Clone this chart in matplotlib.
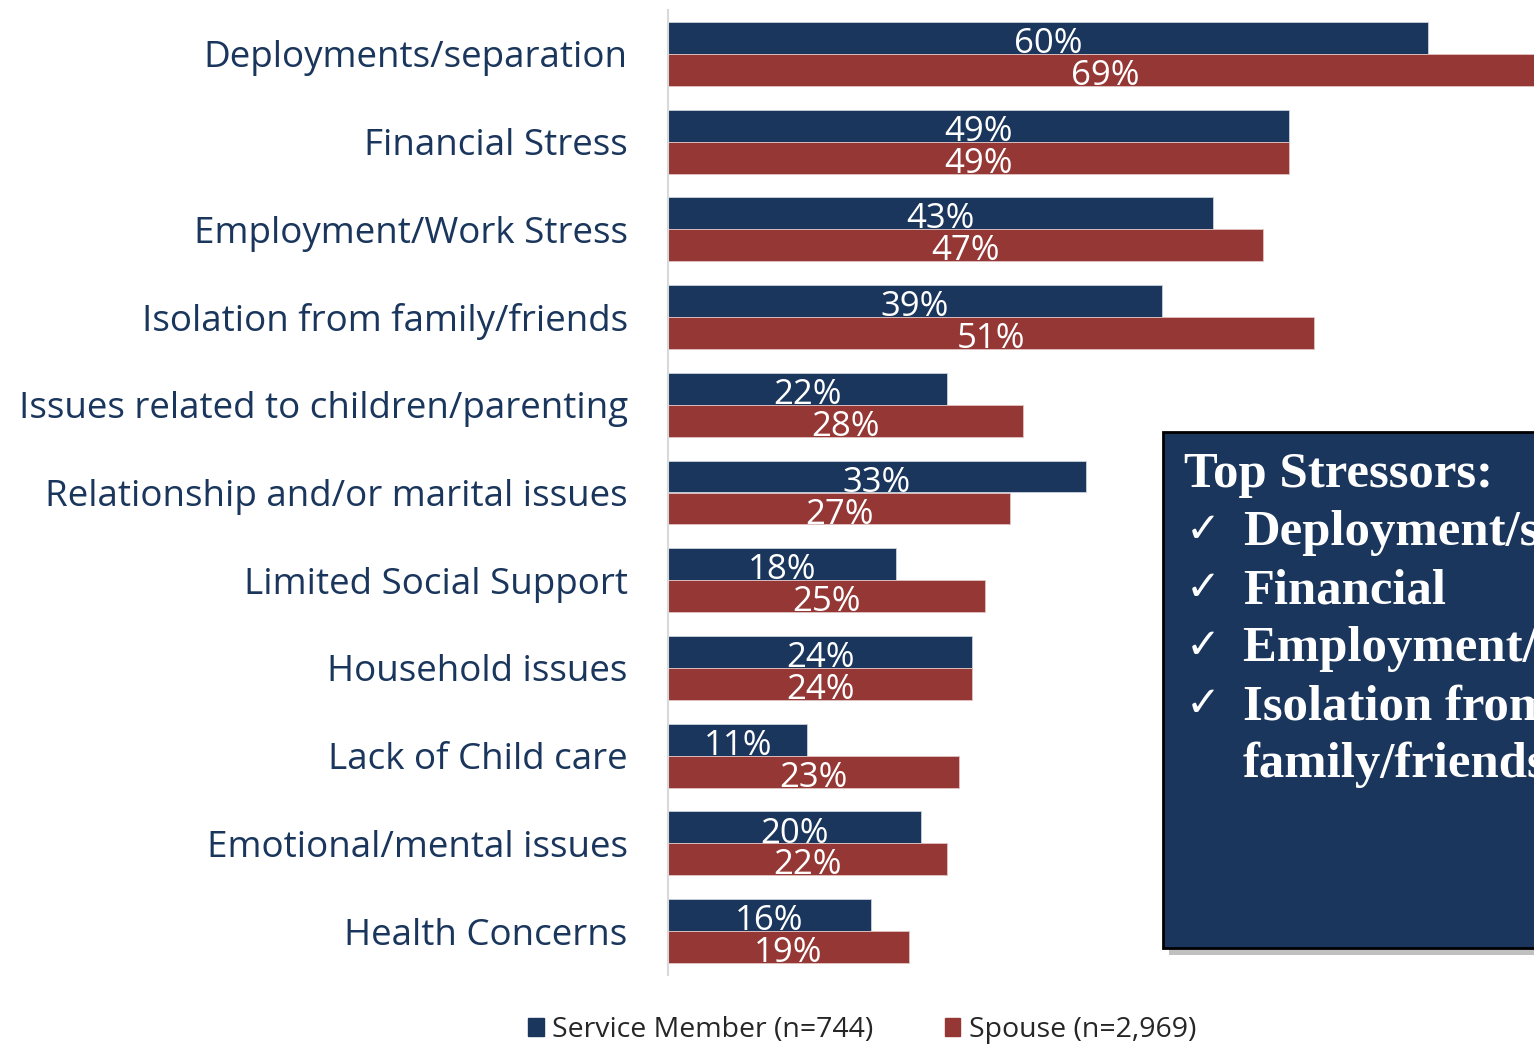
import matplotlib.pyplot as plt
import matplotlib.patches as mpatches
import numpy as np

categories = [
    "Deployments/separation",
    "Financial Stress",
    "Employment/Work Stress",
    "Isolation from family/friends",
    "Issues related to children/parenting",
    "Relationship and/or marital issues",
    "Limited Social Support",
    "Household issues",
    "Lack of Child care",
    "Emotional/mental issues",
    "Health Concerns",
]
service_member = [60, 49, 43, 39, 22, 33, 18, 24, 11, 20, 16]
spouse = [69, 49, 47, 51, 28, 27, 25, 24, 23, 22, 19]
series_labels = ["Service Member (n=744)", "Spouse (n=2,969)"]
box_title = "Top Stressors:"
box_items = ["Deployment/separation", "Financial", "Employment/Work Stress",
             "Isolation from\nfamily/friends"]

NAVY = "#1a365d"
RED = "#953735"
LABEL_FONT = "Open Sans"
BOX_FONT = "Liberation Serif"

fig = plt.figure(figsize=(15.34, 10.45), dpi=100)
ax = fig.add_axes([668 / 1534, 70 / 1045, 866 / 1534, 965 / 1045])

y = np.arange(len(categories))
h = 0.364
ax.barh(y - h / 2, service_member, height=h, color=NAVY, edgecolor="#c9d1dc", linewidth=0.6)
ax.barh(y + h / 2, spouse, height=h, color=RED, edgecolor="#e0c4c4", linewidth=0.6)

# value labels sit on the bottom edge of each bar
for i in range(len(categories)):
    for val, off in ((service_member[i], -h / 2), (spouse[i], h / 2)):
        ax.text(val / 2, i + off + h / 2 - 0.01, f"{val}%", ha="center", va="baseline",
                color="white", fontsize=25, family=LABEL_FONT)

ax.set_xlim(0, 866 / 12.67)
ax.set_ylim(len(categories) - 0.5, -0.5)
ax.set_yticks(y)
ax.set_yticklabels(categories, fontsize=26.5, color=NAVY, family=LABEL_FONT)
ax.tick_params(axis="y", length=0, pad=29)
ax.set_xticks([])
for side in ("top", "right", "bottom"):
    ax.spines[side].set_visible(False)
ax.spines["left"].set_color("#d9d9d9")
ax.spines["left"].set_linewidth(1.5)

# legend along the bottom
handles = [mpatches.Patch(color=NAVY), mpatches.Patch(color=RED)]
fig.legend(handles, series_labels, loc="center", bbox_to_anchor=(862 / 1534, 1 - 1030 / 1045),
           ncol=2, frameon=False, handlelength=0.55, handleheight=0.6, handletextpad=0.3,
           columnspacing=2.5, prop={"family": LABEL_FONT, "size": 20.5},
           labelcolor="#262626")

# summary box on the right
shadow = mpatches.Rectangle((1169 / 1534, 1 - 955 / 1045), 0.3, (955 - 438) / 1045,
                            transform=fig.transFigure, facecolor="#a6a6a6", edgecolor="none",
                            alpha=0.7, zorder=4)
box = mpatches.Rectangle((1163 / 1534, 1 - 948 / 1045), 0.3, (948 - 432) / 1045,
                         transform=fig.transFigure, facecolor=NAVY, edgecolor="black",
                         linewidth=2, zorder=5)
fig.patches.extend([shadow, box])

fig.text(1184 / 1534, 1 - 475 / 1045, box_title, color="white", fontsize=36.5,
         fontweight="bold", family=BOX_FONT, va="center", zorder=6)
line_y = 533
for item in box_items:
    fig.text(1186 / 1534, 1 - (line_y - 3) / 1045, "\u2713", color="white", fontsize=30,
             family="DejaVu Sans", va="center", zorder=6)
    for part in item.split("\n"):
        fig.text(1243 / 1534, 1 - line_y / 1045, part, color="white", fontsize=36.5,
                 fontweight="bold", family=BOX_FONT, va="center", zorder=6)
        line_y += 58

fig.savefig("out.png", dpi=100)
